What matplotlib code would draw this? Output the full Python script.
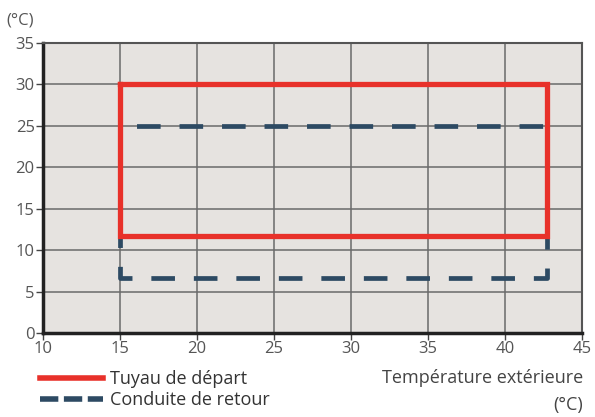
import matplotlib.pyplot as plt
from matplotlib.lines import Line2D

# operating range data (outdoor temp vs water temp)
depart_x = [15, 42.7, 42.7, 15, 15]
depart_y = [30, 30, 11.7, 11.7, 30]
retour_x = [15, 42.7, 42.7, 15, 15]
retour_y = [25, 25, 6.6, 6.6, 25]
xticks = [10, 15, 20, 25, 30, 35, 40, 45]
yticks = [0, 5, 10, 15, 20, 25, 30, 35]

red = '#e8312a'
blue = '#2d4a63'
txt = '#555555'
plt.rcParams['font.family'] = ['Open Sans', 'DejaVu Sans']

fig = plt.figure(figsize=(5.95, 4.17), dpi=100)
ax = fig.add_axes([0.0723, 0.2014, 0.906, 0.696])
ax.set_facecolor('#e6e3e0')

ax.plot(retour_x, retour_y, color=blue, lw=3.4, ls=(5.5, (5, 4)), solid_capstyle='butt', zorder=3)
ax.plot(depart_x, depart_y, color=red, lw=3.8, solid_joinstyle='miter', zorder=4)

ax.set_xlim(10, 45)
ax.set_ylim(0, 35)
ax.set_xticks(xticks)
ax.set_yticks(yticks)
ax.grid(True, color='#6a6a6a', lw=1.1)
ax.set_axisbelow(True)
ax.tick_params(colors='#444444', labelcolor=txt, labelsize=12, length=5, width=1, pad=1)
for s in ['left', 'bottom']:
	ax.spines[s].set_linewidth(2.5)
	ax.spines[s].set_color('#222222')
for s in ['top', 'right']:
	ax.spines[s].set_linewidth(1.5)
	ax.spines[s].set_color('#555555')

fig.text(0.01, 0.952, '(°C)', color=txt, fontsize=12, ha='left', va='center')
fig.text(0.98, 0.094, 'Température extérieure', color='#444444', fontsize=13, ha='right', va='center')
fig.text(0.98, 0.029, '(°C)', color='#444444', fontsize=13, ha='right', va='center')

handles = [Line2D([], [], color=red, lw=4), Line2D([], [], color=blue, lw=4, dashes=(3.3, 1.0))]
fig.legend(handles, ['Tuyau de départ', 'Conduite de retour'], loc='center left',
	bbox_to_anchor=(0.067, 0.066), frameon=False, fontsize=13, labelcolor='#333333',
	handlelength=3.5, handletextpad=0.4, labelspacing=0.15, borderpad=0, borderaxespad=0)

plt.savefig('out.png', dpi=100)
